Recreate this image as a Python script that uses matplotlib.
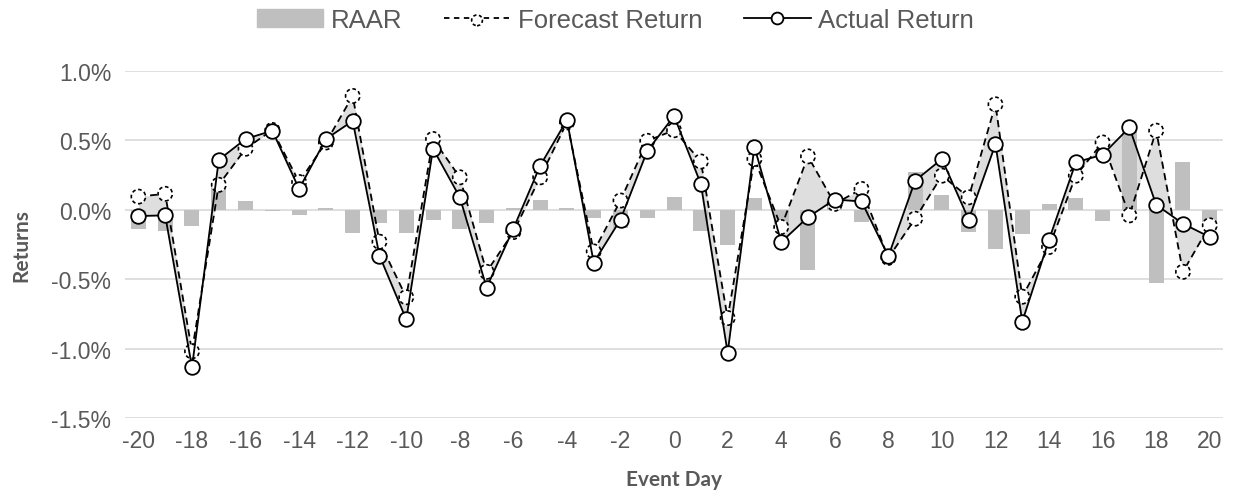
import matplotlib
matplotlib.use("Agg")
import matplotlib.pyplot as plt
from matplotlib.lines import Line2D
from matplotlib.patches import Patch
from matplotlib.legend_handler import HandlerTuple
import numpy as np

# values in percent
days = list(range(-20, 21))

forecast = [0.095, 0.115, -1.02, 0.18, 0.44, 0.575, 0.20, 0.485, 0.82, -0.23,
            -0.63, 0.51, 0.234, -0.447, -0.16, 0.234, 0.63, -0.30, 0.067, 0.497,
            0.573, 0.348, -0.78, 0.366, -0.124, 0.385, 0.043, 0.15, -0.346, -0.064,
            0.246, 0.09, 0.76, -0.626, -0.268, 0.246, 0.485, -0.04, 0.57, -0.447,
            -0.112]

actual = [-0.045, -0.04, -1.135, 0.36, 0.51, 0.57, 0.15, 0.51, 0.64, -0.33,
          -0.79, 0.44, 0.09, -0.56, -0.136, 0.318, 0.647, -0.38, -0.07, 0.425,
          0.676, 0.186, -1.03, 0.454, -0.232, -0.053, 0.074, 0.06, -0.335, 0.21,
          0.366, -0.07, 0.473, -0.805, -0.215, 0.342, 0.397, 0.593, 0.036, -0.10,
          -0.196]

raar = [-0.136, -0.153, -0.12, 0.17, 0.06, -0.01, -0.04, 0.01, -0.17, -0.095,
        -0.167, -0.07, -0.14, -0.095, 0.01, 0.074, 0.01, -0.057, -0.13, -0.06,
        0.095, -0.152, -0.256, 0.084, -0.11, -0.435, 0.03, -0.088, -0.005, 0.27,
        0.11, -0.16, -0.284, -0.172, 0.043, 0.084, -0.084, 0.57, -0.53, 0.342,
        -0.09]

yticks = [-1.5, -1.0, -0.5, 0.0, 0.5, 1.0]
xticks = list(range(-20, 21, 2))

plt.rcParams['font.family'] = ['Liberation Sans', 'DejaVu Sans']
plt.rcParams['axes.unicode_minus'] = False

grey_txt = "#595959"

fig = plt.figure(figsize=(12.33, 5.02), dpi=100)
ax = fig.add_axes([0.1014, 0.1653, 0.8906, 0.6913])

x = np.array(days)
f = np.array(forecast)
a = np.array(actual)

ax.fill_between(x, f, a, color="#dedede", linewidth=0, interpolate=True, zorder=1)
ax.bar(x, raar, width=0.56, color="#bfbfbf", zorder=2)
ax.plot(x, f, color="black", linestyle=(0, (4, 2.5)), lw=1.3, zorder=3)
ax.scatter(x, f, s=105, facecolor="white", edgecolor="black",
           linewidths=1.2, linestyles=(0, (2.2, 1.6)), zorder=4)
ax.plot(x, a, color="black", lw=1.3, marker="o", markersize=10.5,
        mfc="white", mec="black", mew=1.3, zorder=5)

ax.set_xlim(-20.5, 20.5)
ax.set_ylim(-1.5, 1.0)
ax.set_yticks(yticks)
ax.set_yticklabels(["{:.1f}%".format(v) for v in yticks])
ax.set_xticks(xticks)
ax.set_xticklabels([str(d) for d in xticks])
ax.tick_params(length=0, labelsize=16.5, colors=grey_txt, pad=10)
ax.tick_params(axis="x", pad=8)
ax.grid(axis="y", color="#d9d9d9", lw=1.2, zorder=0)
ax.set_axisbelow(True)
for s in ax.spines.values():
    s.set_visible(False)

ax.set_ylabel("Returns", fontsize=15, fontweight="bold", color=grey_txt,
              family=["Lato", "DejaVu Sans"], labelpad=14)
ax.set_xlabel("Event Day", fontsize=15, fontweight="bold", color=grey_txt,
              family=["Lato", "DejaVu Sans"], labelpad=12)

h_bar = Patch(color="#bfbfbf")
h_fl = Line2D([], [], color="black", linestyle=(0, (3, 2.5)), lw=1.3)
h_fs = ax.scatter([], [], s=60, facecolor="white", edgecolor="black",
                  linewidths=1.2, linestyles=(0, (2, 1.5)))
h_act = Line2D([], [], color="black", lw=1.3, marker="o", markersize=8.5,
               mfc="white", mec="black", mew=1.3)
leg = fig.legend([h_bar, (h_fl, h_fs), h_act],
                 ["RAAR", "Forecast Return", "Actual Return"],
                 loc="center", bbox_to_anchor=(0.499, 0.958), ncol=3,
                 frameon=False, fontsize=18.5, handlelength=2.6,
                 columnspacing=1.6, handletextpad=0.3,
                 handler_map={tuple: HandlerTuple(ndivide=1, pad=0)})
for t in leg.get_texts():
    t.set_color(grey_txt)

fig.savefig("out.png", dpi=100)
